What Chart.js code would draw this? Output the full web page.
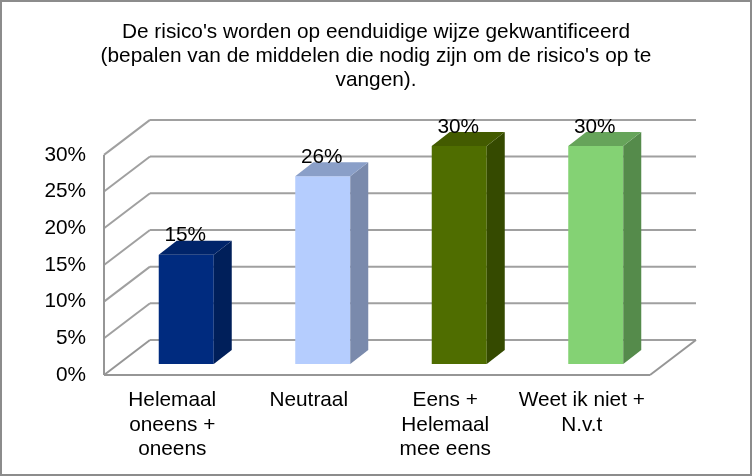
<!DOCTYPE html>
<html>
<head>
<meta charset="utf-8">
<title>Risico's</title>
<script src="https://cdn.jsdelivr.net/npm/chart.js@4"></script>
<style>
  html, body { margin: 0; padding: 0; background: #fff; }
  canvas { display: block; }
</style>
</head>
<body>
<canvas id="chart" width="752" height="476"></canvas>
<script>
const TITLE_LINES = [
  "De risico's worden op eenduidige wijze gekwantificeerd",
  "(bepalen van de middelen die nodig zijn om de risico's op te",
  "vangen)."
];
const CATEGORIES = [
  ['Helemaal', 'oneens +', 'oneens'],
  'Neutraal',
  ['Eens +', 'Helemaal', 'mee eens'],
  ['Weet ik niet +', 'N.v.t']
];
const VALUES = [14.9, 25.6, 29.7, 29.7];
const Y_MAX = 30;
const Y_STEP = 5;

const FRONT = ['#002b7f', '#b5cdfe', '#4f6d00', '#84d274'];
const SIDE = ['#001f5a', '#7a8aac', '#354a00', '#558b4b'];
const TOP = ['#00246a', '#8a9fc8', '#435b00', '#66a45a'];

const FONT = '"Liberation Sans", Arial, sans-serif';
const FONT_SIZE = 20.8;
const GRID = '#a0a0a0';
const AXIS = '#969696';

// wall depth, bar plane shift and bar depth, in px
const WALL_DX = 46, WALL_DY = 35;
const BAR_DX = 14, BAR_DY = 11;
const DEPTH_DX = 18, DEPTH_DY = 14;

function line(ctx, x1, y1, x2, y2) {
  ctx.beginPath();
  ctx.moveTo(x1, y1);
  ctx.lineTo(x2, y2);
  ctx.stroke();
}

function poly(ctx, pts, color) {
  ctx.fillStyle = color;
  ctx.beginPath();
  pts.forEach((p, i) => (i ? ctx.lineTo(p[0], p[1]) : ctx.moveTo(p[0], p[1])));
  ctx.closePath();
  ctx.fill();
}

/* ---------- frame, back wall and floor ---------- */
const wallsPlugin = {
  id: 'walls',
  afterLayout(chart) {
    // centre the title on the whole canvas, not on the padded layout box
    chart.titleBlock.left = 0;
    chart.titleBlock.right = chart.width;
  },
  beforeDatasetsDraw(chart) {
    const { ctx, chartArea: a, scales: { y } } = chart;
    ctx.save();
    ctx.lineWidth = 2;
    ctx.strokeStyle = GRID;
    for (let v = Y_STEP; v <= Y_MAX; v += Y_STEP) {
      const py = y.getPixelForValue(v);
      line(ctx, a.left, py, a.left + WALL_DX, py - WALL_DY);
      line(ctx, a.left + WALL_DX, py - WALL_DY, a.right + WALL_DX, py - WALL_DY);
    }
    const y0 = y.getPixelForValue(0);
    line(ctx, a.left + WALL_DX, y0 - WALL_DY, a.right + WALL_DX, y0 - WALL_DY);
    ctx.strokeStyle = AXIS;
    line(ctx, a.left, y0, a.left + WALL_DX, y0 - WALL_DY);
    line(ctx, a.right, y0, a.right + WALL_DX, y0 - WALL_DY);
    line(ctx, a.left, y0, a.right, y0);
    line(ctx, a.left, y.getPixelForValue(Y_MAX), a.left, y0);
    ctx.restore();

    // bars sit a bit behind the front edge of the floor
    ctx.save();
    ctx.translate(BAR_DX, -BAR_DY);
  },
  afterDatasetsDraw(chart) {
    const { ctx } = chart;
    ctx.restore();
    const bars = chart.getDatasetMeta(0).data;

    // side and top faces of each bar, then the value on top
    bars.forEach((bar, i) => {
      const x1 = bar.x - bar.width / 2 + BAR_DX, x2 = bar.x + bar.width / 2 + BAR_DX;
      const top = bar.y - BAR_DY, base = bar.base - BAR_DY;
      poly(ctx, [[x2, top], [x2 + DEPTH_DX, top - DEPTH_DY], [x2 + DEPTH_DX, base - DEPTH_DY], [x2, base]], SIDE[i]);
      poly(ctx, [[x1, top], [x1 + DEPTH_DX, top - DEPTH_DY], [x2 + DEPTH_DX, top - DEPTH_DY], [x2, top]], TOP[i]);
    });

    ctx.save();
    ctx.fillStyle = '#000';
    ctx.font = FONT_SIZE + 'px ' + FONT;
    ctx.textAlign = 'center';
    ctx.textBaseline = 'middle';
    bars.forEach((bar, i) => {
      ctx.fillText(Math.round(VALUES[i]) + '%', bar.x + BAR_DX - 1, bar.y - BAR_DY - 19);
    });
    ctx.restore();
  },
  afterDraw(chart) {
    const { ctx, width, height } = chart;
    ctx.save();
    ctx.lineWidth = 2;
    ctx.strokeStyle = '#8c8c8c';
    ctx.strokeRect(1, 1, width - 2, height - 2);
    ctx.restore();
  }
};

new Chart(document.getElementById('chart'), {
  type: 'bar',
  data: {
    labels: CATEGORIES,
    datasets: [{
      data: VALUES,
      backgroundColor: FRONT,
      borderWidth: 0,
      barPercentage: 0.403,
      categoryPercentage: 1,
      clip: false
    }]
  },
  plugins: [wallsPlugin],
  options: {
    responsive: false,
    animation: false,
    layout: { autoPadding: false, padding: { left: 0, right: 102, top: 0, bottom: 0 } },
    plugins: {
      legend: { display: false },
      tooltip: { enabled: false },
      title: {
        display: true,
        text: TITLE_LINES,
        color: '#000',
        font: { family: FONT, size: FONT_SIZE, weight: 'normal', lineHeight: 1.16 },
        padding: { top: 20, bottom: 62.5 },
        align: 'center',
        fullSize: true
      }
    },
    scales: {
      x: {
        grid: { display: false },
        border: { display: false },
        ticks: { color: '#000', font: { family: FONT, size: FONT_SIZE, lineHeight: 1.18 }, padding: 5, maxRotation: 0, autoSkip: false },
        afterFit(s) { s.height = 101; }
      },
      y: {
        min: 0,
        max: Y_MAX,
        grid: { display: false },
        border: { display: false },
        ticks: { stepSize: Y_STEP, color: '#000', font: { family: FONT, size: FONT_SIZE }, padding: 10, callback: (v) => v + '%' },
        afterFit(s) { s.width = 104; }
      }
    }
  }
});
</script>
</body>
</html>
